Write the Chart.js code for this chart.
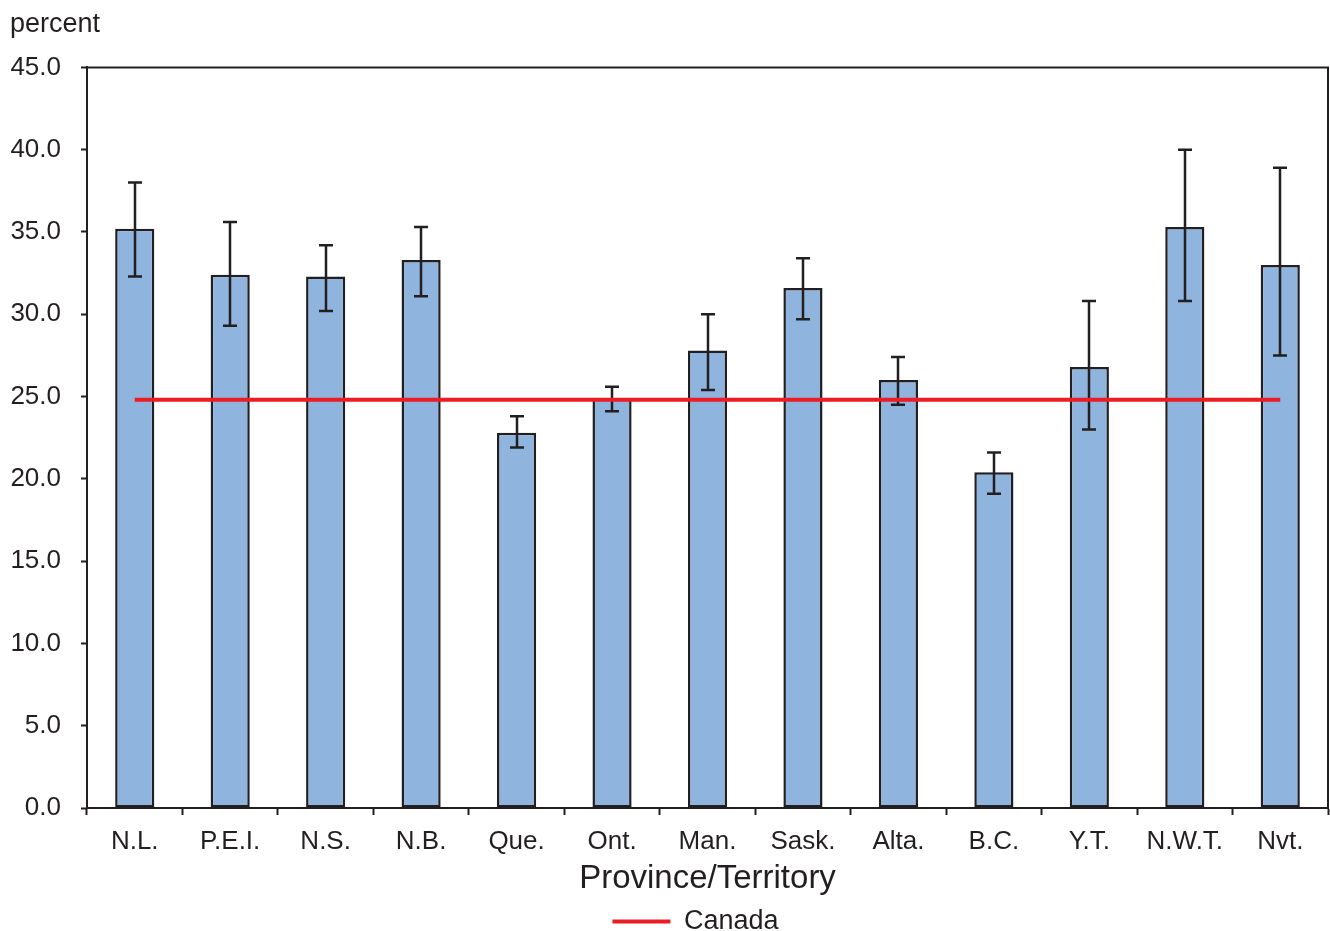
<!DOCTYPE html>
<html>
<head>
<meta charset="utf-8">
<script src="https://cdn.jsdelivr.net/npm/chart.js@4.4.0/dist/chart.umd.min.js"></script>
<style>
  html, body { margin: 0; padding: 0; background: #ffffff; }
  #wrap { width: 1330px; height: 931px; }
</style>
</head>
<body>
<div id="wrap"><canvas id="chart" width="1330" height="931"></canvas></div>
<script>
// Province/territory rates (percent) with 95% confidence intervals
const provinces = ['N.L.', 'P.E.I.', 'N.S.', 'N.B.', 'Que.', 'Ont.', 'Man.', 'Sask.', 'Alta.', 'B.C.', 'Y.T.', 'N.W.T.', 'Nvt.'];
const rates     = [35.2, 32.4, 32.3, 33.3, 22.8, 24.9, 27.8, 31.6, 26.0, 20.4, 26.8, 35.3, 33.0];
const lowerCI   = [32.3, 29.3, 30.2, 31.1, 21.9, 24.1, 25.4, 29.7, 24.5, 19.1, 23.0, 30.8, 27.5];
const upperCI   = [38.0, 35.6, 34.2, 35.3, 23.8, 25.6, 30.0, 33.4, 27.4, 21.6, 30.8, 40.0, 38.9];
const canadaRate = [24.8, 24.8, 24.8, 24.8, 24.8, 24.8, 24.8, 24.8, 24.8, 24.8, 24.8, 24.8, 24.8];
const yTickValues = [0, 5, 10, 15, 20, 25, 30, 35, 40, 45];

const INK = '#231f20';
const FONT = "'Liberation Sans', Arial, Helvetica, sans-serif";

Chart.defaults.font.family = FONT;
Chart.defaults.color = INK;

// Confidence-interval whiskers drawn right after the bars, below the Canada line
const errorBars = {
  id: 'errorBars',
  afterDatasetDraw(chart, args) {
    if (args.index !== 0) return;
    const { ctx } = chart;
    const y = chart.scales.y;
    const cap = 7;
    ctx.save();
    ctx.strokeStyle = INK;
    ctx.lineWidth = 2.5;
    args.meta.data.forEach((bar, i) => {
      const x = Math.round(bar.x);
      const top = y.getPixelForValue(upperCI[i]);
      const bot = y.getPixelForValue(lowerCI[i]);
      ctx.beginPath();
      ctx.moveTo(x, top); ctx.lineTo(x, bot);
      ctx.moveTo(x - cap, top); ctx.lineTo(x + cap, top);
      ctx.moveTo(x - cap, bot); ctx.lineTo(x + cap, bot);
      ctx.stroke();
    });
    ctx.restore();
  }
};

// Closes the plot frame on the top and right sides
const plotFrame = {
  id: 'plotFrame',
  afterDraw(chart) {
    const { ctx, chartArea: a } = chart;
    ctx.save();
    ctx.strokeStyle = INK;
    ctx.lineWidth = 2;
    ctx.beginPath();
    ctx.moveTo(a.left, a.top);
    ctx.lineTo(a.right, a.top);
    ctx.lineTo(a.right, a.bottom);
    ctx.stroke();
    ctx.restore();
  }
};

// Nudges the legend a little left of the plot centre
const legendNudge = {
  id: 'legendNudge',
  afterLayout(chart) {
    if (!chart.legend) return;
    chart.legend.left -= 12;
    chart.legend.right -= 12;
  }
};

new Chart(document.getElementById('chart'), {
  data: {
    labels: provinces,
    datasets: [
      {
        type: 'bar',
        label: 'Province/Territory',
        data: rates,
        backgroundColor: '#8fb4de',
        borderColor: INK,
        borderWidth: 2.5,
        borderSkipped: false,
        barPercentage: 0.41,
        categoryPercentage: 1.0,
        order: 1
      },
      {
        type: 'line',
        label: 'Canada',
        data: canadaRate,
        borderColor: '#ed1c24',
        backgroundColor: '#ed1c24',
        borderWidth: 4,
        pointRadius: 0,
        pointHoverRadius: 0,
        fill: false,
        order: 0
      }
    ]
  },
  options: {
    responsive: false,
    devicePixelRatio: 1,
    animation: false,
    layout: { padding: { left: 10, right: 2, top: 8, bottom: -14 } },
    plugins: {
      title: {
        display: true,
        text: 'percent',
        align: 'start',
        color: INK,
        font: { size: 27, weight: 'normal', family: FONT },
        padding: { top: 0, bottom: 27 }
      },
      legend: {
        position: 'bottom',
        fullSize: false,
        labels: {
          filter: (item) => item.text === 'Canada',
          usePointStyle: true,
          pointStyle: 'line',
          pointStyleWidth: 58,
          boxHeight: 10,
          padding: 4,
          color: INK,
          font: { size: 27, family: FONT }
        }
      },
      tooltip: { enabled: false }
    },
    scales: {
      x: {
        grid: {
          offset: true,
          drawOnChartArea: false,
          drawTicks: true,
          tickLength: 7,
          tickColor: INK,
          tickWidth: 2
        },
        border: { display: true, color: INK, width: 2 },
        ticks: {
          color: INK,
          padding: 11,
          maxRotation: 0,
          autoSkip: false,
          font: { size: 26, family: FONT }
        },
        title: {
          display: true,
          text: 'Province/Territory',
          color: INK,
          padding: { top: 0, bottom: 5 },
          font: { size: 33, family: FONT }
        },
        afterFit: (scale) => { scale.height = 96; }
      },
      y: {
        min: 0,
        max: 45,
        afterBuildTicks: (scale) => { scale.ticks = yTickValues.map(v => ({ value: v })); },
        grid: {
          drawOnChartArea: false,
          drawTicks: true,
          tickLength: 6,
          tickColor: INK,
          tickWidth: 2
        },
        border: { display: true, color: INK, width: 2 },
        ticks: {
          color: INK,
          padding: 20,
          callback: (v) => Number(v).toFixed(1),
          font: { size: 26, family: FONT }
        },
        afterFit: (scale) => { scale.width = 77; }
      }
    }
  },
  plugins: [errorBars, plotFrame, legendNudge]
});
</script>
</body>
</html>
